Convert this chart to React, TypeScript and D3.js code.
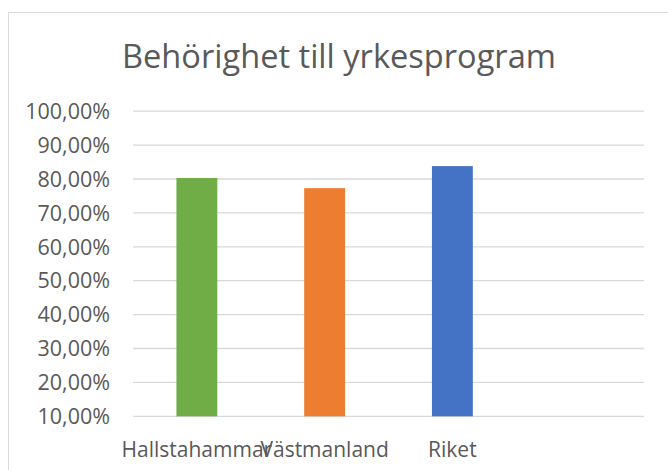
import { useEffect, useRef } from "react";
import * as d3 from "d3";

const title = "Behörighet till yrkesprogram";
const categories = ["Hallstahammar", "Västmanland", "Riket", ""];
const values = [0.803, 0.773, 0.838, null];
const colors = ["#70ad47", "#ed7d31", "#4472c4", "none"];
const yTicks = [0.1, 0.2, 0.3, 0.4, 0.5, 0.6, 0.7, 0.8, 0.9, 1.0];

export default function App() {
  const svgRef = useRef<SVGSVGElement>(null);

  useEffect(() => {
    const width = 668;
    const height = 470;
    const marginTop = 111.2;
    const marginBottom = 470 - 416.3;
    const marginLeft = 133;
    const marginRight = 668 - 644;
    const font = "'Open Sans', sans-serif";
    const textColor = "#595959";

    const svg = d3.select(svgRef.current)
      .attr("width", width)
      .attr("height", height)
      .attr("viewBox", [0, 0, width, height].join(" "));
    svg.selectAll("*").remove();

    svg.append("rect")
      .attr("x", 0)
      .attr("y", 0)
      .attr("width", width)
      .attr("height", height)
      .attr("fill", "#fff");

    // chart frame
    svg.append("rect")
      .attr("x", 8.5)
      .attr("y", 12.5)
      .attr("width", 720)
      .attr("height", 520)
      .attr("fill", "none")
      .attr("stroke", "#d9d9d9")
      .attr("stroke-width", 1);

    const x = d3.scaleBand()
      .domain(categories.map((c, i) => String(i)))
      .range([marginLeft, width - marginRight])
      .paddingInner(0.68)
      .paddingOuter(0.34);

    const y = d3.scaleLinear()
      .domain([0.1, 1.0])
      .range([height - marginBottom, marginTop]);

    const fmt = (v: number) => (v * 100).toFixed(2).replace(".", ",") + "%";

    // gridlines
    svg.append("g")
      .selectAll("line")
      .data(yTicks)
      .join("line")
      .attr("x1", marginLeft)
      .attr("x2", width - marginRight)
      .attr("y1", d => y(d))
      .attr("y2", d => y(d))
      .attr("stroke", "#d9d9d9")
      .attr("stroke-width", 1.3);

    // y tick labels
    svg.append("g")
      .selectAll("text")
      .data(yTicks)
      .join("text")
      .attr("x", 110)
      .attr("y", d => y(d))
      .attr("dy", "0.36em")
      .attr("text-anchor", "end")
      .attr("font-family", font)
      .attr("font-size", 21.5)
      .attr("fill", textColor)
      .text(d => fmt(d));

    // bars
    svg.append("g")
      .selectAll("rect")
      .data(values.map((v, i) => ({ v, i })).filter(d => d.v !== null))
      .join("rect")
      .attr("x", d => x(String(d.i))!)
      .attr("width", x.bandwidth())
      .attr("y", d => y(d.v as number))
      .attr("height", d => y(0.1) - y(d.v as number))
      .attr("fill", d => colors[d.i]);

    // x labels
    svg.append("g")
      .selectAll("text")
      .data(categories.map((c, i) => ({ c, i })))
      .join("text")
      .attr("x", d => x(String(d.i))! + x.bandwidth() / 2)
      .attr("y", 457)
      .attr("text-anchor", "middle")
      .attr("font-family", font)
      .attr("font-size", 21)
      .attr("fill", textColor)
      .text(d => d.c);

    svg.append("text")
      .attr("x", 339)
      .attr("y", 68)
      .attr("text-anchor", "middle")
      .attr("font-family", font)
      .attr("font-size", 32.6)
      .attr("fill", textColor)
      .text(title);
  }, []);

  return (
    <svg ref={svgRef} style={{ position: "absolute", left: 0, top: 0 }}></svg>
  );
}
